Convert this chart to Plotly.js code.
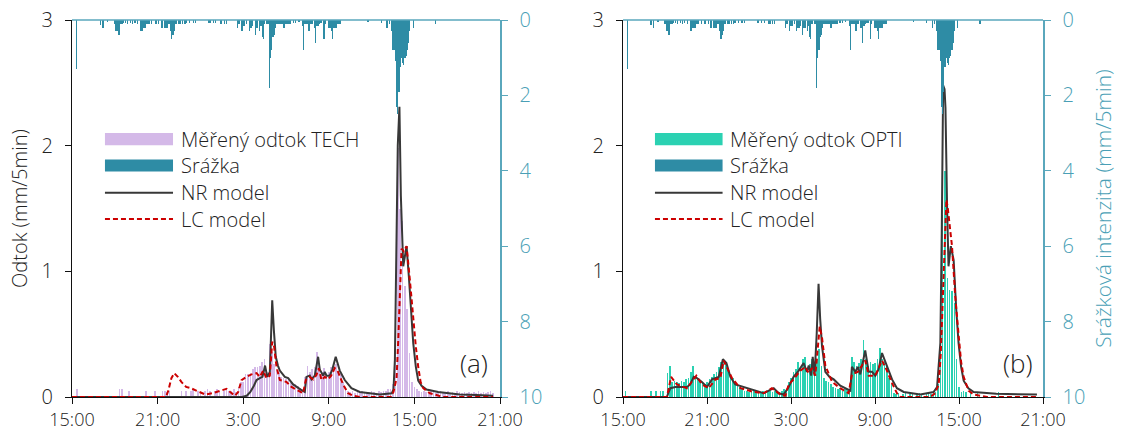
<!DOCTYPE html>
<html><head><meta charset="utf-8">
<script src="https://cdn.plot.ly/plotly-3.0.1.min.js"></script>
<style>html,body{margin:0;padding:0;background:#fff}#chart{width:1124px;height:430px}</style>
</head><body><div id="chart"></div>
<script>
// Time is given in minutes after 15:00 of the first day.
const tickMinutes = [0, 360, 720, 1080, 1440, 1800];
const tickLabels = ['15:00', '21:00', '3:00', '9:00', '15:00', '21:00'];
const flowTicks = [0, 1, 2, 3];
const rainTicks = [0, 2, 4, 6, 8, 10];

// Rain intensity (mm/5min), 5-minute steps, non-zero entries only
const rainTime = [20,120,130,150,180,185,190,195,200,205,210,215,225,235,245,255,265,275,
  290,295,300,305,310,315,320,325,335,350,355,365,375,380,390,395,400,405,410,415,420,425,430,
  435,440,450,455,465,475,480,495,510,520,575,580,595,605,625,630,640,650,
  695,700,705,715,720,725,735,745,750,755,760,770,775,780,790,795,800,805,810,820,825,
  830,835,840,845,850,855,860,865,870,875,880,885,890,895,900,905,910,915,920,930,940,955,
  970,975,980,985,990,995,1000,1005,1010,1020,1025,1030,1035,1040,1045,1050,1060,1065,
  1080,1085,1090,1095,1100,1105,1110,1115,1120,1125,1130,1245,1300,1325,1335,1345,
  1350,1355,1360,1365,1370,1375,1380,1385,1390,1395,1400,1405,1410,1415,1420,1435,1530];
const rainValue = [1.3,0.12,0.2,0.05,0.1,0.3,0.3,0.4,0.4,0.1,0.1,0.08,0.08,0.1,0.08,0.1,0.08,0.1,
  0.3,0.3,0.2,0.2,0.2,0.1,0.1,0.1,0.1,0.1,0.1,0.1,0.2,0.2,0.2,0.2,0.2,0.1,0.1,0.3,0.5,0.4,0.3,
  0.1,0.1,0.1,0.1,0.1,0.1,0.08,0.08,0.08,0.08,0.08,0.08,0.08,0.08,0.1,0.1,0.1,0.1,
  0.2,0.1,0.1,0.3,0.17,0.17,0.1,0.3,0.2,0.2,0.15,0.4,0.2,0.2,0.3,0.15,0.46,0.5,0.1,0.1,0.1,
  1.8,1.0,0.8,0.45,0.4,0.2,0.1,0.1,0.1,0.1,0.1,0.1,0.2,0.2,0.1,0.1,0.1,0.1,0.1,0.08,0.08,0.05,
  0.17,0.8,0.1,0.1,0.1,0.3,0.3,0.1,0.1,0.2,0.6,0.17,0.17,0.1,0.08,0.08,0.5,0.1,
  0.2,0.2,0.3,0.5,0.2,0.2,0.2,0.1,0.1,0.1,0.1,0.06,0.08,0.2,0.1,0.3,
  0.8,0.8,1.1,2.3,2.5,1.9,1.25,1.0,1.15,1.2,1.0,0.95,0.8,0.6,0.3,0.2,0.1];

// Measured runoff (mm/5min), one value per 10 minutes from 15:00
const techFlow = [
  0,0,0.06,0,0,0,0,0,0,0,0,0,
  0,0,0,0,0,0,0,0,0.06,0.06,0,0,
  0.05,0,0,0,0,0,0,0.05,0,0,0,0.05,
  0,0,0.05,0.05,0.04,0.05,0,0,0,0,0.05,0,
  0.05,0,0.05,0.06,0,0.05,0.04,0,0.05,0.06,0.05,0,
  0.05,0.06,0.05,0,0.05,0.06,0.05,0.05,0.06,0.04,0.08,0.12,
  0.12,0.18,0.18,0.19,0.22,0.24,0.24,0.25,0.28,0.3,0.2,0.42,
  0.36,0.26,0.22,0.2,0.16,0.15,0.14,0.15,0.11,0.1,0.1,0.09,
  0.07,0.06,0.16,0.25,0.2,0.22,0.24,0.36,0.22,0.2,0.23,0.19,
  0.2,0.24,0.2,0.26,0.2,0.18,0.12,0.08,0.05,0.04,0.05,0.03,
  0.04,0.03,0.05,0.04,0.03,0.04,0.05,0.04,0.03,0.05,0.04,0.05,
  0.05,0.06,0.06,0.1,0.7,1.98,1.5,1.4,0.88,0.7,0.35,0.12,
  0.08,0.06,0.05,0.04,0.05,0.04,0.03,0.05,0.04,0.03,0.04,0.05,
  0.03,0.04,0.05,0.03,0.04,0.03,0.05,0.04,0.03,0.04,0.03,0.04,
  0.03,0.04,0.03,0.05,0.03,0.04,0.03,0.04,0.05,0.03,0,0];
const optiFlow = [
  0,0.05,0,0,0,0,0,0,0,0,0,0,
  0.05,0,0.05,0,0.05,0.05,0,0.19,0.25,0.12,0.13,0.12,
  0.11,0.13,0.12,0.14,0.15,0.2,0.25,0.17,0.15,0.13,0.11,0.1,
  0.12,0.14,0.16,0.18,0.2,0.24,0.28,0.3,0.26,0.22,0.18,0.15,
  0.12,0.1,0.08,0.06,0.05,0.05,0.04,0.05,0.05,0.04,0.05,0.04,
  0.05,0.04,0.05,0.05,0.04,0.05,0.05,0.04,0.05,0.06,0.05,0.12,
  0.15,0.2,0.22,0.28,0.22,0.3,0.32,0.22,0.26,0.3,0.22,0.3,
  0.38,0.25,0.15,0.13,0.12,0.1,0.08,0.07,0.06,0.07,0.05,0.06,
  0.06,0.05,0.32,0.28,0.25,0.27,0.3,0.45,0.3,0.25,0.28,0.26,
  0.27,0.3,0.39,0.3,0.28,0.25,0.15,0.1,0.03,0.02,0.03,0,
  0.02,0.03,0,0.02,0.03,0,0.02,0.03,0.02,0,0.02,0.03,
  0.02,0.03,0.04,0.1,0.7,1.45,1.8,0.95,0.85,0.84,0.75,0.3,
  0.08,0.04,0.05,0.04,0,0.04,0,0,0.03,0,0,0,
  0,0,0,0,0,0.04,0,0,0,0,0,0,
  0,0,0,0,0,0,0,0,0,0,0,0];
const flowTime = techFlow.map((_, i) => i * 10);

// Model runoff (mm/5min)
const nrATime = [0,715,735,750,765,776,790,801,812,821,832,842,849,857,866,874,895,909,930,950,965,979,986,1000,1007,1021,1035,1042,1049,1056,1063,1070,1084,1095,1109,1118,1126,1147,1175,1210,1295,1345,1352,1358,1364,1370,1377,1383,1393,1400,1407,1417,1426,1435,1446,1456,1470,1491,1540,1631,1700,1771];
const nrAValue = [0,0,0.01,0.04,0.09,0.135,0.15,0.16,0.25,0.16,0.2,0.77,0.53,0.32,0.25,0.21,0.16,0.15,0.1,0.07,0.055,0.04,0.16,0.17,0.14,0.17,0.32,0.22,0.19,0.17,0.2,0.17,0.17,0.22,0.32,0.25,0.21,0.135,0.07,0.04,0.02,0.03,0.06,0.3,1.1,2.0,2.31,1.6,1.04,1.12,1.2,0.95,0.65,0.43,0.24,0.13,0.09,0.06,0.04,0.02,0.015,0.01];
const lcATime = [0,395,405,418,430,445,460,480,500,525,560,590,620,650,665,685,699,713,734,755,776,790,804,818,832,842,850,860,874,902,923,958,972,983,1000,1014,1028,1038,1049,1063,1077,1090,1105,1119,1140,1161,1182,1211,1340,1352,1365,1372,1379,1386,1395,1407,1421,1435,1446,1456,1466,1477,1505,1561,1771];
const lcAValue = [0,0,0.05,0.15,0.19,0.16,0.12,0.08,0.07,0.05,0.02,0.03,0.05,0.065,0.04,0.01,0.04,0.135,0.16,0.18,0.19,0.16,0.21,0.15,0.17,0.44,0.4,0.24,0.135,0.12,0.08,0.04,0.03,0.135,0.16,0.14,0.175,0.23,0.135,0.16,0.14,0.17,0.23,0.2,0.1,0.03,0.01,0,0,0.04,0.15,0.45,0.82,1.18,1.16,1.2,0.93,0.61,0.4,0.24,0.12,0.07,0.03,0,0];
const nrBTime = [0,188,196,203,224,274,288,303,317,338,360,381,410,428,443,460,481,517,560,603,646,667,688,710,731,753,774,788,796,806,813,821,830,838,845,853,867,885,903,931,974,981,996,1006,1017,1030,1038,1053,1067,1081,1095,1110,1131,1153,1174,1203,1274,1331,1346,1360,1366,1372,1378,1382,1389,1395,1405,1417,1428,1438,1449,1460,1480,1503,1600,1774];
const nrBValue = [0,0,0.04,0.07,0.08,0.08,0.1,0.16,0.15,0.12,0.08,0.14,0.16,0.3,0.27,0.16,0.1,0.08,0.05,0.03,0.07,0.03,0.02,0.08,0.16,0.21,0.27,0.2,0.25,0.17,0.32,0.17,0.5,0.9,0.62,0.4,0.2,0.16,0.14,0.09,0.05,0.24,0.2,0.24,0.18,0.3,0.37,0.2,0.2,0.17,0.22,0.35,0.24,0.14,0.07,0.04,0.02,0.04,0.08,0.43,1.3,2.48,2.45,2.3,1.5,1.04,1.2,1.09,0.7,0.43,0.24,0.13,0.07,0.04,0.025,0.02];
const lcBTime = [0,188,206,231,274,295,314,338,367,396,417,431,453,467,503,560,603,638,674,696,710,731,760,781,796,810,824,843,853,867,896,931,967,981,1006,1038,1053,1081,1110,1131,1153,1174,1188,1317,1338,1353,1362,1372,1380,1386,1392,1400,1410,1417,1424,1438,1449,1460,1481,1503,1560,1774];
const lcBValue = [0,0,0.16,0.1,0.07,0.12,0.17,0.1,0.07,0.14,0.15,0.29,0.21,0.15,0.07,0.04,0.03,0.07,0.02,0.01,0.1,0.14,0.21,0.24,0.19,0.23,0.17,0.56,0.47,0.25,0.12,0.07,0.03,0.18,0.2,0.29,0.17,0.17,0.29,0.21,0.11,0.03,0,0,0.03,0.1,0.35,0.8,1.3,1.57,1.5,1.35,1.2,1.0,0.8,0.5,0.28,0.16,0.05,0.02,0,0];

const legendTextA = ['Měřený odtok TECH', 'Srážka', 'NR model', 'LC model'];
const legendTextB = ['Měřený odtok OPTI', 'Srážka', 'NR model', 'LC model'];

const FONT = '"Open Sans", "Noto Sans", sans-serif';
const W = 300;
const INK = '#222222';
const RAIN = '#2e8ca5';
const TEAL_AXIS = '#5aa7bc';
const TEAL_TEXT = '#4a9fb6';
const TECH = '#d4b9e8';
const OPTI = '#2bd1b2';
const NR = '#383838';
const LC = '#cc0000';
const LCDASH = '5px,3px';

function bar(x, y, xa, ya, color, w) {
  return {type: 'bar', x: x, y: y, xaxis: xa, yaxis: ya, width: w,
    marker: {color: color, line: {width: 0}}, hoverinfo: 'skip', showlegend: false};
}
function line(x, y, xa, ya, color, dash) {
  return {type: 'scatter', mode: 'lines', x: x, y: y, xaxis: xa, yaxis: ya,
    line: {color: color, width: 2, dash: dash || 'solid'}, hoverinfo: 'skip', showlegend: false};
}

const data = [
  bar(flowTime, techFlow, 'x', 'y', TECH, 7),
  line(nrATime, nrAValue, 'x', 'y', NR),
  line(lcATime, lcAValue, 'x', 'y', LC, LCDASH),
  bar(rainTime, rainValue, 'x', 'y2', RAIN, 5),
  bar(flowTime, optiFlow, 'x2', 'y3', OPTI, 7),
  line(nrBTime, nrBValue, 'x2', 'y3', NR),
  line(lcBTime, lcBValue, 'x2', 'y3', LC, LCDASH),
  bar(rainTime, rainValue, 'x2', 'y4', RAIN, 5)
];

function xAxis(domain, anchor) {
  return {domain: domain, anchor: anchor, range: [0, 1800], tickvals: tickMinutes, ticktext: tickLabels,
    ticks: 'outside', ticklen: 6, tickwidth: 1, tickcolor: '#111', showline: true, linecolor: '#111',
    linewidth: 1, showgrid: false, zeroline: false, tickfont: {size: 18, color: INK, weight: W}, ticklabelstandoff: 0};
}
function flowAxis(anchor, title) {
  const ax = {domain: [0, 1], anchor: anchor, range: [0, 3], tickvals: flowTicks,
    ticks: 'outside', ticklen: 6, tickwidth: 1, tickcolor: '#111', showline: true, linecolor: '#111',
    linewidth: 1, showgrid: false, zeroline: false, tickfont: {size: 20, color: INK, weight: W}, ticklabelstandoff: 8};
  if (title) ax.title = {text: title, font: {size: 20, color: INK, weight: W}, standoff: 8};
  return ax;
}
function rainAxis(anchor, over, title) {
  const ax = {anchor: anchor, overlaying: over, side: 'right', range: [10, 0], tickvals: rainTicks,
    ticks: 'outside', ticklen: 6, tickwidth: 1, tickcolor: TEAL_AXIS, showline: true, linecolor: TEAL_AXIS,
    linewidth: 1.5, showgrid: false, zeroline: false, tickfont: {size: 20, color: TEAL_TEXT, weight: W}, ticklabelstandoff: 8};
  if (title) ax.title = {text: title, font: {size: 21, color: TEAL_TEXT, weight: W}, standoff: 12};
  return ax;
}

const shapes = [];
const annotations = [];
function panelDecor(xd, yd, x0, x1, xt, texts, flowColor, tag) {
  shapes.push({type: 'line', xref: xd, yref: yd, x0: 0, x1: 1, y0: 1, y1: 1, line: {color: TEAL_AXIS, width: 1.5}});
  const rows = [0.684, 0.614, 0.542, 0.472];
  const h = 0.016;
  shapes.push({type: 'rect', xref: xd, yref: yd, x0: x0, x1: x1, y0: rows[0] - h, y1: rows[0] + h, fillcolor: flowColor, line: {width: 0}});
  shapes.push({type: 'rect', xref: xd, yref: yd, x0: x0, x1: x1, y0: rows[1] - h, y1: rows[1] + h, fillcolor: RAIN, line: {width: 0}});
  shapes.push({type: 'line', xref: xd, yref: yd, x0: x0, x1: x1, y0: rows[2], y1: rows[2], line: {color: NR, width: 2}});
  shapes.push({type: 'line', xref: xd, yref: yd, x0: x0, x1: x1, y0: rows[3], y1: rows[3], line: {color: LC, width: 2, dash: LCDASH}});
  texts.forEach((t, i) => annotations.push({xref: xd, yref: yd, x: xt, y: rows[i], text: t, showarrow: false,
    xanchor: 'left', yanchor: 'middle', font: {size: 20, color: INK, weight: W}}));
  annotations.push({xref: xd, yref: yd, x: 0.94, y: 0.09, text: tag, showarrow: false,
    xanchor: 'center', yanchor: 'middle', font: {size: 26, color: INK, weight: W}});
}
panelDecor('x domain', 'y domain', 0.077, 0.236, 0.25, legendTextA, TECH, '(a)');
panelDecor('x2 domain', 'y3 domain', 0.076, 0.237, 0.251, legendTextB, OPTI, '(b)');

const layout = {
  width: 1124, height: 430,
  margin: {l: 72, r: 81, t: 20, b: 33},
  paper_bgcolor: '#ffffff', plot_bgcolor: '#ffffff',
  font: {family: FONT, color: INK, weight: W},
  barmode: 'overlay', bargap: 0,
  showlegend: false,
  xaxis: xAxis([0, 0.4408], 'y'),
  yaxis: flowAxis('x', 'Odtok (mm/5min)'),
  yaxis2: rainAxis('x', 'y', null),
  xaxis2: xAxis([0.5675, 1], 'y3'),
  yaxis3: flowAxis('x2', null),
  yaxis4: rainAxis('x2', 'y3', 'Srážková intenzita (mm/5min)'),
  shapes: shapes,
  annotations: annotations
};

Plotly.newPlot('chart', data, layout, {staticPlot: true, displayModeBar: false});
</script>
</body></html>
